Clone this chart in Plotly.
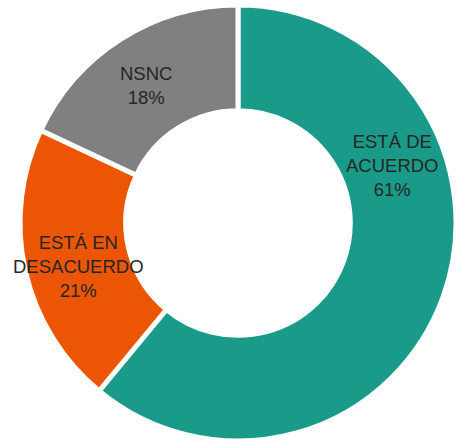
import math
import plotly.graph_objects as go

labels = ["ESTÁ DE<br>ACUERDO", "ESTÁ EN<br>DESACUERDO", "NSNC"]
values = [61, 21, 18]
colors = ["#1a9b89", "#eb5504", "#808080"]

W, H = 458, 444
cx, cy, R = 238, 223, 218          # pie centre / radius in px
hole = 0.515
label_shift_deg = [-40, -2.5, -1.5]  # manual label angle nudges (as in reference)

fig = go.Figure(go.Pie(
    labels=labels,
    values=values,
    hole=hole,
    sort=False,
    direction="clockwise",
    rotation=0,
    marker=dict(colors=colors, line=dict(color="white", width=5)),
    textinfo="none",
    domain=dict(x=[(cx - R) / W, (cx + R) / W], y=[(H - cy - R) / H, (H - cy + R) / H]),
    showlegend=False,
    hoverinfo="label+percent",
))

total = sum(values)
cum = 0
rmid = R * (1 + hole) / 2
for lab, v, sh in zip(labels, values, label_shift_deg):
    mid = (cum + v / 2) / total * 360 + sh
    cum += v
    a = math.radians(mid)
    px = cx + rmid * math.sin(a)
    py = cy - rmid * math.cos(a)
    pct = round(v / total * 100)
    fig.add_annotation(
        x=px / W, y=1 - py / H, xref="paper", yref="paper",
        xanchor="center", yanchor="middle",
        text=f"{lab}<br>{pct}%", showarrow=False,
        font=dict(family="Liberation Sans, Arial, sans-serif", size=18.5, color="#262626"),
        align="center",
    )

fig.update_layout(
    width=W, height=H,
    margin=dict(l=0, r=0, t=0, b=0),
    paper_bgcolor="white",
    plot_bgcolor="white",
)
fig.write_html("out.html", config={"displayModeBar": False},
               post_script="document.body.style.margin='0px';")
